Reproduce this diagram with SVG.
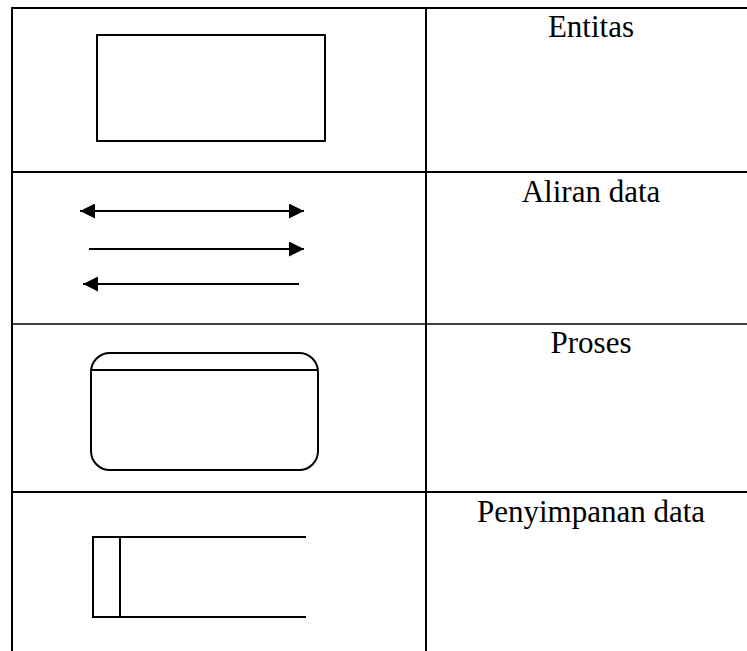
<svg xmlns="http://www.w3.org/2000/svg" width="747" height="651" viewBox="0 0 747 651">
  <style>
    .grid { stroke: #000; stroke-width: 2; fill: none; }
    .shape { stroke: #000; stroke-width: 2; fill: none; }
    .label { font-family: "Liberation Serif", "Times New Roman", serif; font-size: 31px; fill: #000; text-anchor: middle; }
  </style>
  <defs>
    <marker id="head" viewBox="0 0 15 15" refX="15" refY="7.5" markerWidth="15" markerHeight="15" markerUnits="userSpaceOnUse" orient="auto-start-reverse">
      <path d="M0,0 L15,7.5 L0,15 Z" fill="#000"/>
    </marker>
  </defs>
  <rect width="747" height="651" fill="#fff"/>

  <!-- table rules -->
  <g id="table" class="grid">
    <line x1="12" y1="8" x2="747" y2="8"/>
    <line x1="12" y1="7" x2="12" y2="651"/>
    <line x1="426" y1="7" x2="426" y2="651"/>
    <line x1="12" y1="172" x2="747" y2="172"/>
    <line x1="12" y1="324" x2="747" y2="324" stroke-width="1.5"/>
    <line x1="12" y1="492" x2="747" y2="492"/>
  </g>

  <!-- row 1: entity -->
  <g id="entitas">
    <rect class="shape" x="97" y="35" width="228" height="106"/>
    <text class="label" x="591" y="37">Entitas</text>
  </g>

  <!-- row 2: data flow -->
  <g id="aliran-data">
    <text class="label" x="591" y="202">Aliran data</text>
  </g>
  <g id="connectors" class="shape">
    <line x1="80" y1="211" x2="304" y2="211" marker-start="url(#head)" marker-end="url(#head)"/>
    <line x1="89" y1="249" x2="304" y2="249" marker-end="url(#head)"/>
    <line x1="299" y1="284" x2="83" y2="284" marker-end="url(#head)"/>
  </g>

  <!-- row 3: process -->
  <g id="proses">
    <rect class="shape" x="91" y="353" width="227" height="117" rx="19" ry="19"/>
    <line class="shape" x1="91" y1="370" x2="318" y2="370"/>
    <text class="label" x="591" y="353">Proses</text>
  </g>

  <!-- row 4: data store -->
  <g id="penyimpanan-data">
    <path class="shape" d="M306,537 H93 V617 H306 M120,537 V617"/>
    <text class="label" x="591" y="522">Penyimpanan data</text>
  </g>
</svg>
